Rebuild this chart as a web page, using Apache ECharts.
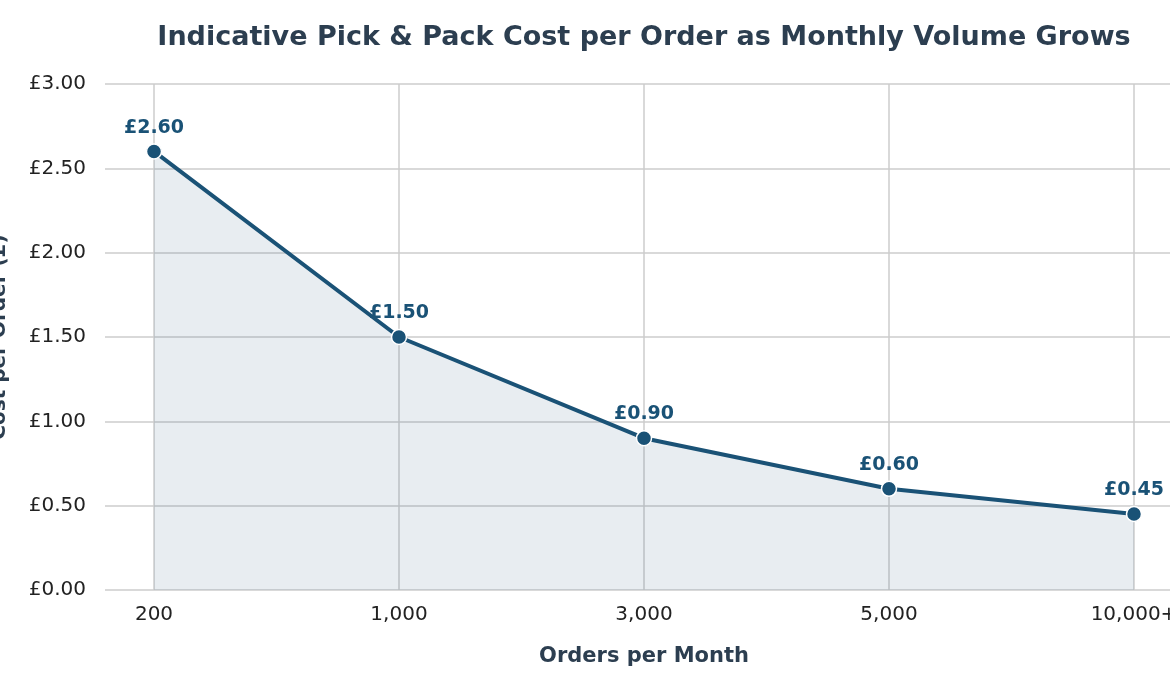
<!DOCTYPE html>
<title>pick and pack cost</title>
<style>
body {margin: 0;}
#echart {height: 694px; width: 1170px;}
</style>
<div id='echart'></div>
<script src='https://cdn.jsdelivr.net/npm/echarts@6.0.0/dist/echarts.min.js'></script>
<script>
let volumes = ['200', '1,000', '3,000', '5,000', '10,000+']
let costs = [2.60, 1.50, 0.90, 0.60, 0.45]
let yTicks = [0, 0.5, 1, 1.5, 2, 2.5, 3]

let font = 'DejaVu Sans'
let dark = '#2c3e50'
let blue = '#1a5276'
let positions = volumes.map((v, i) => i)

let echart = echarts.init(document.querySelector('#echart'))
let option = {
	animation: false,
	textStyle: {fontFamily: font},
	title: {
		text: 'Indicative Pick & Pack Cost per Order as Monthly Volume Grows',
		left: 639, top: 19, textAlign: 'center',
		textStyle: {fontFamily: font, fontSize: 27, fontWeight: 'bold', color: dark},
	},
	grid: {left: 105, right: -13, top: 84, bottom: 104, outerBoundsMode: 'none', containLabel: false},
	xAxis: {
		type: 'value', min: -0.2, max: 4.2,
		name: 'Orders per Month', nameLocation: 'middle', nameGap: 56,
		nameTextStyle: {fontFamily: font, fontSize: 21, fontWeight: 'bold', color: dark},
		axisLine: {show: false},
		axisTick: {show: false, customValues: positions},
		axisLabel: {customValues: positions, formatter: v => volumes[Math.round(v)] ?? '', fontFamily: font, fontSize: 20, color: '#222', margin: 15},
		splitLine: {show: true, lineStyle: {color: '#cccccc', width: 1.5}},
	},
	yAxis: {
		type: 'value', min: yTicks[0], max: yTicks[yTicks.length - 1], interval: 0.5,
		name: 'Cost per Order (£)', nameLocation: 'middle', nameGap: 95,
		nameTextStyle: {fontFamily: font, fontSize: 20, fontWeight: 'bold', color: dark},
		axisLine: {show: false},
		axisTick: {show: false},
		axisLabel: {formatter: v => '£' + v.toFixed(2), fontFamily: font, fontSize: 20, color: '#222', margin: 19},
		splitLine: {show: true, lineStyle: {color: '#cccccc', width: 1.5}},
	},
	series: [{
		type: 'line',
		data: costs.map((c, i) => [positions[i], c]),
		symbol: 'circle', symbolSize: 15,
		lineStyle: {color: blue, width: 4},
		itemStyle: {color: blue, borderColor: '#fff', borderWidth: 1.5},
		areaStyle: {color: blue, opacity: 0.1},
		label: {show: true, position: 'top', distance: 6, formatter: p => '£' + p.value[1].toFixed(2), fontFamily: font, fontSize: 19, fontWeight: 'bold', color: blue},
		z: 3,
	}],
}

echart.setOption(option)
addEventListener('resize', function (event) {echart.resize()})
</script>
